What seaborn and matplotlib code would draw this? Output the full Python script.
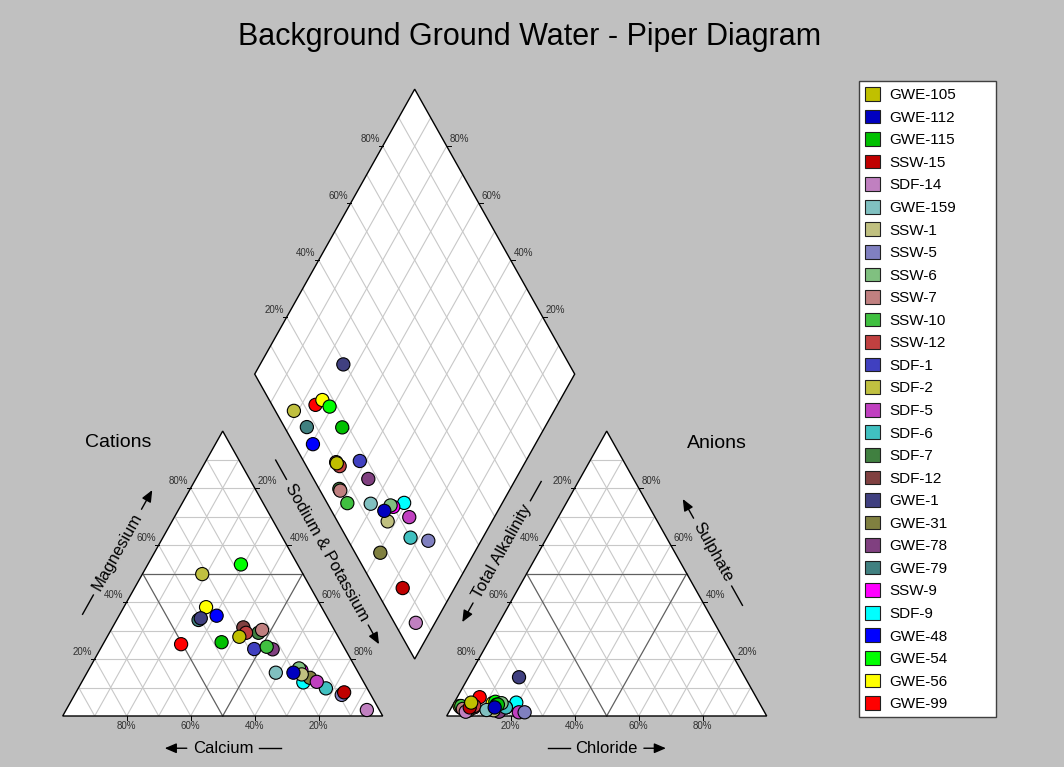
"""
Background Ground Water - Piper Diagram
Cation / anion ternary plots plus the projected diamond, drawn with seaborn scatterplots.
"""
import numpy as np
import pandas as pd
import matplotlib
matplotlib.use('Agg')
import matplotlib.pyplot as plt
from matplotlib.patches import Polygon, Patch
import seaborn as sns

# ---------------------------------------------------------------
# Data (percent of meq)
# ---------------------------------------------------------------
samples = ['GWE-105', 'GWE-112', 'GWE-115', 'SSW-15', 'SDF-14', 'GWE-159', 'SSW-1',
           'SSW-5', 'SSW-6', 'SSW-7', 'SSW-10', 'SSW-12', 'SDF-1', 'SDF-2', 'SDF-5',
           'SDF-6', 'SDF-7', 'SDF-12', 'GWE-1', 'GWE-31', 'GWE-78', 'GWE-79', 'SSW-9',
           'SDF-9', 'GWE-48', 'GWE-54', 'GWE-56', 'GWE-99']
colors = ['#C0C000', '#0000C0', '#00C000', '#C00000', '#C080C0', '#80C0C0', '#C0C080',
          '#8080C0', '#80C080', '#C08080', '#40C040', '#C04040', '#4040C0', '#C0C040',
          '#C040C0', '#40C0C0', '#408040', '#804040', '#404080', '#808040', '#804080',
          '#408080', '#FF00FF', '#00FFFF', '#0000FF', '#00FF00', '#FFFF00', '#FF0000']

calcium = [30.9, 20.3, 37.4, 7.9, 3.9, 25.8, 18.0, 9.1, 17.8, 22.6, 24.1, 28.1, 28.4, 31.5,
           14.6, 12.9, 24.2, 28.0, 39.7, 16.0, 22.7, 40.7, 17.4, 18.9, 34.3, 17.7, 36.1, 50.4]
magnesium = [27.8, 15.2, 25.9, 8.3, 2.1, 15.2, 14.6, 7.4, 16.7, 30.2, 24.3, 29.2, 23.5, 49.8,
             12.0, 9.7, 29.2, 31.1, 34.3, 13.4, 23.4, 33.7, 16.0, 11.8, 35.2, 53.2, 38.2, 25.2]
sodium_potassium = [41.3, 64.5, 36.7, 83.8, 94.0, 59.0, 67.4, 83.5, 65.5, 47.2, 51.6, 42.7,
                    48.1, 18.7, 73.4, 77.4, 46.6, 40.9, 26.0, 70.6, 53.9, 25.6, 66.6, 69.3,
                    30.5, 29.1, 25.7, 24.4]

alkalinity = [90.0, 83.5, 82.0, 91.3, 93.3, 86.5, 84.3, 75.0, 80.6, 93.7, 93.7, 89.6, 82.4,
              94.2, 76.8, 80.0, 93.7, 90.0, 70.6, 92.1, 82.9, 93.0, 80.0, 75.9, 94.1, 82.3,
              83.4, 86.4]
sulphate = [4.7, 3.0, 4.0, 3.0, 1.5, 2.1, 2.0, 1.3, 4.5, 2.5, 3.5, 3.5, 4.0, 3.5, 1.3, 3.0,
            3.0, 3.0, 13.6, 2.0, 1.5, 3.0, 3.0, 4.7, 3.0, 5.0, 4.5, 6.6]
chloride = [5.3, 13.5, 14.0, 5.7, 5.2, 11.4, 13.7, 23.7, 14.9, 3.8, 2.8, 6.9, 13.6, 2.3,
            21.9, 17.0, 3.3, 7.0, 15.8, 5.9, 15.6, 4.0, 17.0, 19.4, 2.9, 12.7, 12.1, 7.0]

# ---------------------------------------------------------------
# Piper geometry (triangle side = 1, gap between triangles = GAP)
# ---------------------------------------------------------------
H = np.sqrt(3) / 2
GAP = 0.2
X0_AN = 1 + GAP


def cation_xy(mg, na):
    return na + mg / 2, mg * H


def anion_xy(so4, cl):
    return X0_AN + cl + so4 / 2, so4 * H


def diamond_xy(na, alk):
    s = (2 + GAP) - alk - na
    return na + s / 2, s * H


df = pd.DataFrame({'sample': samples, 'ca': calcium, 'mg': magnesium,
                   'na': sodium_potassium, 'alk': alkalinity, 'so4': sulphate,
                   'cl': chloride})
for c in ['ca', 'mg', 'na', 'alk', 'so4', 'cl']:
    df[c] = df[c] / 100.0

cx, cy = cation_xy(df['mg'], df['na'])
ax_, ay = anion_xy(df['so4'], df['cl'])
dx, dy = diamond_xy(df['na'], df['alk'])
points = pd.concat([
    pd.DataFrame({'sample': df['sample'], 'x': cx, 'y': cy}),
    pd.DataFrame({'sample': df['sample'], 'x': ax_, 'y': ay}),
    pd.DataFrame({'sample': df['sample'], 'x': dx, 'y': dy}),
], ignore_index=True)
# the original draws the last series first, so the first ones end up on top
points = points.iloc[::-1].reset_index(drop=True)

palette = dict(zip(samples, colors))

# ---------------------------------------------------------------
# Figure: axes spans the whole canvas, limits map to pixel layout
# ---------------------------------------------------------------
plt.rcParams['font.family'] = ['Liberation Sans', 'DejaVu Sans']
BG = '#C0C0C0'
W, Hpx = 1064, 767
PXX, PXY = 320.0, 329.0          # pixels per data unit
OX, OY = 62.7, 716.0             # pixel position of cation left vertex

fig = plt.figure(figsize=(W / 100, Hpx / 100), dpi=100, facecolor=BG)
ax = fig.add_axes([0, 0, 1, 1])
ax.set_facecolor(BG)
XLIM = (-OX / PXX, (W - OX) / PXX)
YLIM = ((OY - Hpx) / PXY, OY / PXY)
ax.set_xlim(XLIM)
ax.set_ylim(YLIM)
ax.axis('off')

grid_light = '#C8C8C8'
grid_dark = '#606060'


def draw_triangle(x0):
    tri = [(x0, 0), (x0 + 1, 0), (x0 + 0.5, H)]
    ax.add_patch(Polygon(tri, closed=True, facecolor='white', edgecolor='none', zorder=0))
    for i in range(1, 10):
        t = i / 10
        col = grid_dark if i == 5 else grid_light
        lw = 0.9 if i == 5 else 0.8
        # horizontal
        ax.plot([x0 + t / 2, x0 + 1 - t / 2], [t * H, t * H], color=col, lw=lw, zorder=1)
        # parallel to left edge
        ax.plot([x0 + t, x0 + t + (1 - t) / 2], [0, (1 - t) * H], color=col, lw=lw, zorder=1)
        # parallel to right edge
        ax.plot([x0 + 1 - t, x0 + (1 - t) / 2], [0, (1 - t) * H], color=col, lw=lw, zorder=1)
    ax.add_patch(Polygon(tri, closed=True, facecolor='none', edgecolor='black', lw=1, zorder=2))


draw_triangle(0)
draw_triangle(X0_AN)

dia = [diamond_xy(0, 1), diamond_xy(1, 1), diamond_xy(1, 0), diamond_xy(0, 0)]
ax.add_patch(Polygon(dia, closed=True, facecolor='white', edgecolor='none', zorder=0))
for i in range(1, 10):
    t = i / 10
    p, q = diamond_xy(t, 1), diamond_xy(t, 0)
    ax.plot([p[0], q[0]], [p[1], q[1]], color=grid_light, lw=0.8, zorder=1)
    p, q = diamond_xy(0, t), diamond_xy(1, t)
    ax.plot([p[0], q[0]], [p[1], q[1]], color=grid_light, lw=0.8, zorder=1)
ax.add_patch(Polygon(dia, closed=True, facecolor='none', edgecolor='black', lw=1, zorder=2))

# ---------------------------------------------------------------
# Tick labels
# ---------------------------------------------------------------
tick_kw = dict(fontsize=7, color='#303030', textcoords='offset pixels', zorder=4)


def tick(xy, label, side):
    x, y = xy
    if side == 'left':
        ax.plot([x, x - 4 / PXX], [y, y], color='black', lw=0.7, zorder=2)
        ax.annotate(label, (x, y), xytext=(-3, 7), ha='right', va='center', **tick_kw)
    elif side == 'right':
        ax.plot([x, x + 4 / PXX], [y, y], color='black', lw=0.7, zorder=2)
        ax.annotate(label, (x, y), xytext=(3, 7), ha='left', va='center', **tick_kw)
    else:
        ax.plot([x, x], [y, y - 4 / PXY], color='black', lw=0.7, zorder=2)
        ax.annotate(label, (x, y), xytext=(0, -10), ha='center', va='center', **tick_kw)


for v in [0.2, 0.4, 0.6, 0.8]:
    pct = f'{int(round(v * 100))}%'
    inv = f'{int(round((1 - v) * 100))}%'
    # cations
    tick((v / 2, v * H), pct, 'left')                  # magnesium
    tick((1 - v / 2, v * H), inv, 'right')             # sodium & potassium
    tick((v, 0), inv, 'bottom')                        # calcium
    # anions
    tick((X0_AN + v / 2, v * H), inv, 'left')          # total alkalinity
    tick((X0_AN + 1 - v / 2, v * H), pct, 'right')     # sulphate
    tick((X0_AN + v, 0), pct, 'bottom')                # chloride
    # diamond
    tick(diamond_xy(0, 1 - v), pct, 'left')
    tick(diamond_xy(1 - v, 0), pct, 'right')

# ---------------------------------------------------------------
# Axis titles with a leading/trailing dash and a filled arrow
# ---------------------------------------------------------------
ANG = 60.7
renderer = fig.canvas.get_renderer()


def axis_title(x, y, text, angle, arrow_end):
    t = ax.text(x, y, text, fontsize=12, ha='center', va='center', rotation=angle,
                rotation_mode='anchor', zorder=4)
    # unrotated width of the label in pixels
    probe = ax.text(0, 0, text, fontsize=12)
    w = probe.get_window_extent(renderer).width
    probe.remove()
    ux = np.cos(np.radians(angle)) / PXX
    uy = np.sin(np.radians(angle)) / PXY
    gap, seg = w / 2 + 6, 22
    for sign in (1, -1):
        p0 = (x + sign * gap * ux, y + sign * gap * uy)
        p1 = (x + sign * (gap + seg) * ux, y + sign * (gap + seg) * uy)
        if (sign == 1) == arrow_end:
            ax.annotate('', xy=p1, xytext=p0, zorder=4,
                        arrowprops=dict(arrowstyle='-|>,head_length=0.7,head_width=0.3',
                                        color='black', lw=1.0, shrinkA=0, shrinkB=0))
        else:
            ax.plot([p0[0], p1[0]], [p0[1], p1[1]], color='black', lw=1.0, zorder=4)
    return t


axis_title(0.501, -0.098, 'Calcium', 0, arrow_end=False)
axis_title(0.171, 0.498, 'Magnesium', ANG, arrow_end=True)
axis_title(0.827, 0.498, 'Sodium & Potassium', -ANG, arrow_end=True)
axis_title(1.700, -0.098, 'Chloride', 0, arrow_end=True)
axis_title(1.372, 0.499, 'Total Alkalinity', ANG, arrow_end=False)
axis_title(2.031, 0.498, 'Sulphate', -ANG, arrow_end=False)
ax.text(0.173, 0.830, 'Cations', fontsize=14, ha='center', va='center')
ax.text(2.044, 0.829, 'Anions', fontsize=14, ha='center', va='center')

fig.text(530 / W, 1 - 37 / Hpx, 'Background Ground Water - Piper Diagram',
         fontsize=22, ha='center', va='center')

# ---------------------------------------------------------------
# Sample points
# ---------------------------------------------------------------
sns.scatterplot(data=points, x='x', y='y', hue='sample', hue_order=samples,
                palette=palette, s=90, edgecolor='black', linewidth=0.8,
                legend=False, zorder=3, ax=ax)
ax.set_xlim(XLIM)
ax.set_ylim(YLIM)
ax.axis('off')

handles = [Patch(facecolor=c, edgecolor='#202020', lw=0.8, label=n)
           for n, c in zip(samples, colors)]
leg = fig.legend(handles=handles, loc='upper left',
                 bbox_to_anchor=(859 / W, 1 - 716 / Hpx, 137 / W, 635 / Hpx),
                 mode='expand', borderaxespad=0, fontsize=11, handlelength=1.0,
                 handleheight=1.0, handletextpad=0.6, labelspacing=0.49,
                 borderpad=0.4, fancybox=False, framealpha=1)
leg.get_frame().set_edgecolor('#404040')
leg.get_frame().set_linewidth(1.0)

fig.savefig('out.png', dpi=100, facecolor=BG)
